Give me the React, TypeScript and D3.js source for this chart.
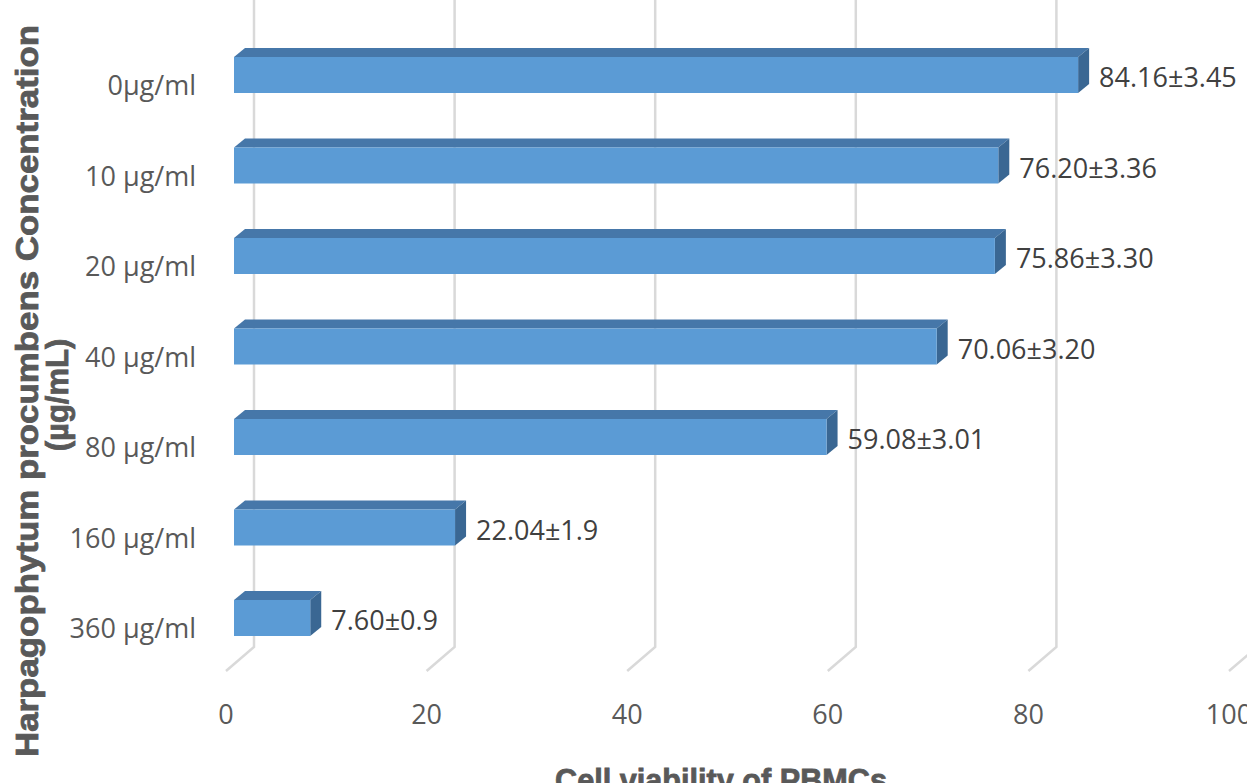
import React from "react";
import * as d3 from "d3";

const categories = ["0µg/ml", "10 µg/ml", "20 µg/ml", "40 µg/ml", "80 µg/ml", "160 µg/ml", "360 µg/ml"];
const values = [84.16, 76.2, 75.86, 70.06, 59.08, 22.04, 7.6];
const dataLabels = ["84.16±3.45", "76.20±3.36", "75.86±3.30", "70.06±3.20", "59.08±3.01", "22.04±1.9", "7.60±0.9"];
const xTicks = [0, 20, 40, 60, 80, 100];
const yTitleLines = ["Harpagophytum procumbens Concentration", "(µg/mL)"];
const xTitle = "Cell viability of PBMCs";

const W = 1247;
const H = 783;

export default function App() {
  const x = d3.scaleLinear().domain([0, 100]).range([234, 1237]);
  const y = d3.scalePoint<string>().domain(categories).range([75, 618]);
  const barH = 36;
  const ddx = 11;
  const ddy = -9;
  const backDx = 20;
  const frontDx = -8;
  const floorBackY = 647;
  const floorFrontY = 671;

  const font = "'Open Sans', sans-serif";
  const boldFont = "'Liberation Sans', Arial, sans-serif";

  return (
    <svg width={W} height={H} style={{ position: "absolute", left: 0, top: 0, background: "#fff" }}>
      {xTicks.map((t) => {
        const bx = x(t) + backDx;
        const fx = x(t) + frontDx;
        return (
          <path
            key={"g" + t}
            d={`M${bx},0 L${bx},${floorBackY} L${fx},${floorFrontY}`}
            fill="none"
            stroke="#d9d9d9"
            strokeWidth={2.5}
          />
        );
      })}

      {categories.map((c, i) => {
        const cy = y(c)!;
        const x0 = x(0);
        const x1 = x(values[i]);
        const top = cy - barH / 2;
        const bot = cy + barH / 2;
        return (
          <g key={c}>
            <path
              d={`M${x0},${top} L${x0 + ddx},${top + ddy} L${x1 + ddx},${top + ddy} L${x1},${top} Z`}
              fill="#4677A9"
            />
            <path
              d={`M${x1},${top} L${x1 + ddx},${top + ddy} L${x1 + ddx},${bot + ddy} L${x1},${bot} Z`}
              fill="#3A6793"
            />
            <rect x={x0} y={top} width={x1 - x0} height={barH} fill="#5B9BD5" />
            <text x={x1 + 21} y={cy + 12} fontFamily={font} fontSize={27} fill="#404040">
              {dataLabels[i]}
            </text>
            <text x={196} y={cy + 20} textAnchor="end" fontFamily={font} fontSize={27} fill="#595959">
              {c}
            </text>
          </g>
        );
      })}

      {xTicks.map((t) => (
        <text
          key={"t" + t}
          x={x(t) + frontDx}
          y={724}
          textAnchor="middle"
          fontFamily={font}
          fontSize={27}
          fill="#595959"
        >
          {t}
        </text>
      ))}

      <text
        x={721}
        y={791}
        textAnchor="middle"
        fontFamily={boldFont}
        fontWeight="bold"
        fontSize={31}
        fill="#595959"
        stroke="#595959"
        strokeWidth={0.8}
        textLength={332}
        lengthAdjust="spacingAndGlyphs"
      >
        {xTitle}
      </text>

      <g transform="translate(38,391) rotate(-90)">
        <text
          x={0}
          y={0}
          textAnchor="middle"
          fontFamily={boldFont}
          fontWeight="bold"
          fontSize={31}
          fill="#595959"
          stroke="#595959"
          strokeWidth={0.8}
          textLength={732}
          lengthAdjust="spacingAndGlyphs"
        >
          {yTitleLines[0]}
        </text>
        <text
          x={-4}
          y={30}
          textAnchor="middle"
          fontFamily={boldFont}
          fontWeight="bold"
          fontSize={31}
          fill="#595959"
          stroke="#595959"
          strokeWidth={0.8}
        >
          {yTitleLines[1]}
        </text>
      </g>
    </svg>
  );
}
